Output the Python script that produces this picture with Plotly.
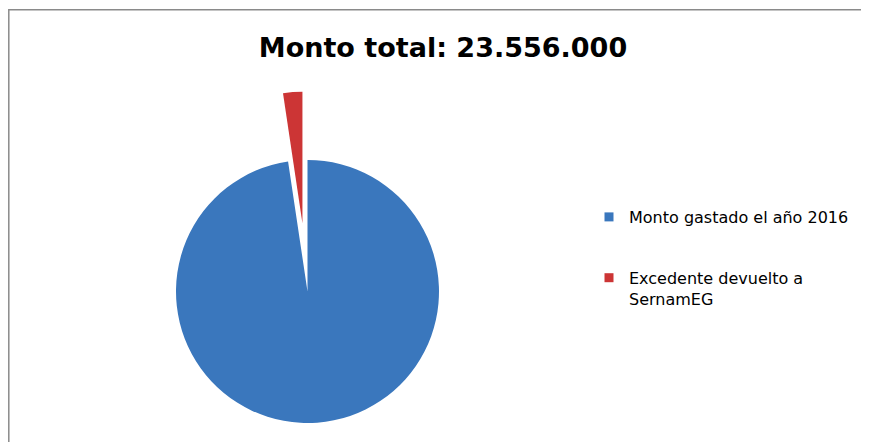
import math
import plotly.graph_objects as go

# ---- data ----
labels = ["Monto gastado el año 2016", "Excedente devuelto a SernamEG"]
legend_labels = ["Monto gastado el año 2016", "Excedente devuelto a<br>SernamEG"]
values = [23000000, 556000]
title_text = "Monto total: 23.556.000"

# ---- styles ----
BLUE = "#3A77BD"
RED = "#CC3535"
CLEAR = "rgba(0,0,0,0)"
W, H = 861, 434  # page body has an 8px margin

# pie geometry (figure pixels)
cx, cy, r = 299.5, 283.5, 131.5
pull = 0.52


def domain(cx_, cy_, r_):
    return dict(x=[(cx_ - r_) / W, (cx_ + r_) / W],
                y=[(H - (cy_ + r_)) / H, (H - (cy_ - r_)) / H])


total = sum(values)
half_angle = math.radians(values[1] / total * 360 / 2)
rcx = cx - pull * r * math.sin(half_angle)
rcy = cy - pull * r * math.cos(half_angle)

fig = go.Figure()

# main (blue) slice
fig.add_trace(go.Pie(
    values=values, labels=labels, sort=False, direction="clockwise", rotation=0,
    marker=dict(colors=[BLUE, CLEAR], line=dict(width=0)),
    textinfo="none", showlegend=False, hoverinfo="label+value",
    domain=domain(cx, cy, r),
))
# exploded (red) slice
fig.add_trace(go.Pie(
    values=values, labels=labels, sort=False, direction="clockwise", rotation=0,
    marker=dict(colors=[CLEAR, RED], line=dict(width=0)),
    textinfo="none", showlegend=False, hoverinfo="label+value",
    domain=domain(rcx, rcy, r),
))

# legend entries
for lab, col in zip(legend_labels, [BLUE, RED]):
    fig.add_trace(go.Scatter(
        x=[None], y=[None], mode="markers", name=lab, legendgroup=lab,
        marker=dict(symbol="square", size=9, color=col, line=dict(width=0)),
    ))

fig.update_layout(
    width=W, height=H,
    margin=dict(l=0, r=0, t=0, b=0),
    paper_bgcolor="white", plot_bgcolor="white",
    xaxis=dict(visible=False), yaxis=dict(visible=False),
    title=dict(text="<b>" + title_text + "</b>", x=435 / W, xanchor="center",
               y=1 - 40 / H, yanchor="middle",
               font=dict(family="DejaVu Sans", size=27, color="black")),
    legend=dict(x=581 / W, y=1 - 192 / H, xanchor="left", yanchor="top",
                traceorder="grouped", tracegroupgap=37, valign="top",
                font=dict(family="DejaVu Sans", size=16, color="black"),
                bgcolor=CLEAR),
    shapes=[dict(type="path", xref="paper", yref="paper",
                 path=f"M {0.8 / W},0 L {0.8 / W},{1 - 1.8 / H} L 1,{1 - 1.8 / H}",
                 line=dict(color="#8a8a8a", width=1.5))],
)

fig.write_html("out.html")
